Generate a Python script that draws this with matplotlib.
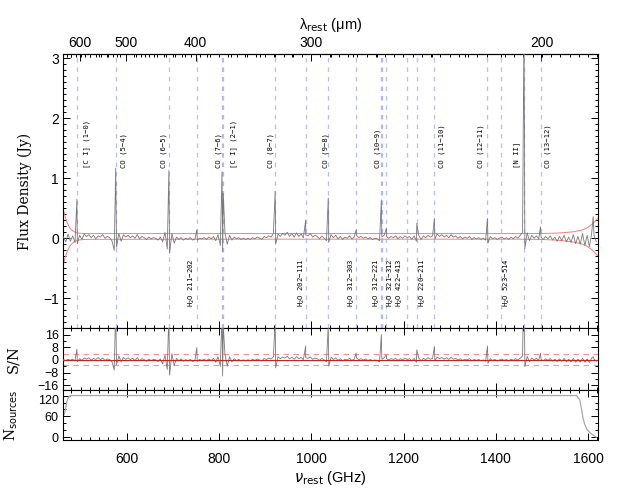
import numpy as np
import matplotlib
matplotlib.use('Agg')
import matplotlib.pyplot as plt
from matplotlib.ticker import MultipleLocator, FixedLocator
from matplotlib.transforms import ScaledTranslation

# ---------------- data ----------------
chan_start = 463.0   # GHz, first channel
chan_step = 5.0      # GHz, channel spacing

flux_base = [
    0.02, -0.06, 0.07, -0.05, 0.04, -0.07, -0.09, 0.05, -0.02, 0.07,
    0.03, 0.06, 0.01, 0.05, -0.01, 0.04, 0.02, 0.06, 0.00, 0.03,
    0.01, -0.04, -0.20, -0.15, 0.08, -0.05, 0.06, 0.02, 0.05, 0.01,
    0.04, 0.00, 0.06, -0.01, 0.03, 0.01, -0.02, 0.02, -0.01, 0.01,
    0.00, -0.03, 0.02, -0.06, 0.10, -0.18, -0.25, 0.08, -0.08, 0.02,
    -0.02, 0.01, -0.03, 0.00, -0.02, 0.01, -0.03, -0.01, -0.03, 0.00,
    -0.01, 0.01, -0.02, 0.02, -0.01, 0.03, -0.04, 0.06, -0.12, -0.22,
    0.09, -0.10, 0.05, -0.03, 0.02, -0.01, 0.01, -0.02, 0.00, -0.02,
    0.00, -0.02, 0.01, -0.01, 0.02, 0.00, -0.02, 0.03, 0.01, 0.04,
    0.02, 0.08, -0.10, 0.07, 0.03, 0.08, 0.05, 0.10, 0.03, 0.08,
    0.02, 0.09, 0.03, 0.07, 0.01, 0.06, 0.04, 0.08, 0.02, 0.05,
    0.03, -0.01, 0.04, 0.00, -0.04, -0.06, 0.06, 0.01, 0.05, -0.01,
    0.03, -0.02, 0.02, 0.00, 0.04, -0.01, 0.02, 0.05, 0.01, 0.03,
    0.00, 0.02, -0.01, 0.01, -0.02, 0.00, -0.01, -0.04, 0.02, 0.05,
    0.03, 0.00, 0.03, 0.01, 0.04, -0.01, 0.03, 0.00, 0.04, 0.01,
    0.03, -0.02, 0.04, -0.05, 0.05, -0.02, 0.04, 0.01, 0.05, 0.02,
    0.04, -0.01, 0.07, 0.03, 0.06, 0.02, 0.05, 0.01, 0.06, 0.02,
    0.04, 0.00, 0.03, -0.01, 0.02, 0.00, 0.03, -0.02, 0.01, -0.01,
    0.01, -0.02, 0.00, -0.03, -0.08, 0.03, -0.01, 0.01, -0.02, 0.00,
    0.02, -0.01, 0.01, -0.02, 0.02, -0.01, 0.03, 0.00, 0.05, 0.10,
    -0.17, 0.09, -0.04, 0.05, 0.00, 0.04, -0.01, 0.02, -0.02, 0.03,
    -0.01, 0.04, -0.03, 0.02, -0.05, 0.03, -0.04, 0.05, -0.06, 0.02,
    -0.07, 0.06, -0.09, 0.03, -0.10, 0.08, -0.12, 0.05, -0.14, 0.10,
    0.04, -0.06,
]

snr_base = [
    0.2, -0.3, 0.4, -0.2, 0.5, -0.6, -1.0, 0.8, -0.3, 1.2,
    0.5, 1.4, -0.2, 1.0, 0.3, 1.5, 0.2, 1.2, -0.3, 0.6,
    0.2, -1.0, -6.4, -3.0, 2.5, -1.2, 1.6, 0.4, 1.3, 0.2,
    1.0, -0.4, 1.5, -0.5, 0.8, 0.2, -0.8, 0.6, -0.4, 0.3,
    0.1, -0.9, 0.7, -2.5, 3.0, -6.0, -9.6, 4.0, -3.5, 1.0,
    -0.5, 0.6, -0.8, 0.2, -0.6, 0.4, -1.0, -0.2, -0.9, 0.3,
    -0.3, 0.5, -0.6, 0.7, -0.4, 1.0, -1.5, 2.0, -4.0, -10.0,
    3.5, -3.8, 2.0, -1.2, 0.8, -0.5, 0.4, -0.7, 0.1, -0.6,
    0.1, -0.5, 0.4, -0.3, 0.6, 0.0, -0.6, 0.9, 0.3, 1.2,
    0.6, 2.0, -5.0, 2.0, 0.8, 1.8, 1.2, 2.2, 0.7, 1.8,
    0.5, 2.0, 0.8, 1.6, 0.2, 1.4, 1.0, 2.0, 0.4, 1.2,
    0.8, -0.3, 1.0, 0.0, -1.2, -4.0, 1.8, 0.3, 1.3, -0.3,
    0.8, -0.6, 0.5, 0.0, 1.0, -0.3, 0.5, 1.3, 0.2, 0.8,
    0.0, 0.5, -0.3, 0.3, -0.6, 0.0, -0.4, -1.2, 0.4, 1.4,
    0.8, 0.0, 0.8, 0.3, 1.0, -0.3, 0.8, 0.0, 1.1, 0.3,
    0.8, -0.6, 1.0, -1.5, 1.3, -0.6, 1.0, 0.2, 1.4, 0.5,
    1.0, -0.3, 1.8, 0.8, 1.6, 0.5, 1.4, 0.3, 1.6, 0.5,
    1.0, 0.0, 0.8, -0.3, 0.5, 0.0, 0.8, -0.5, 0.3, -0.3,
    0.3, -0.6, 0.0, -0.8, -2.2, 0.8, -0.3, 0.3, -0.6, 0.0,
    0.5, -0.3, 0.3, -0.6, 0.5, -0.3, 0.8, 0.0, 1.2, 2.5,
    -4.2, 2.2, -1.0, 1.2, 0.0, 1.0, -0.3, 0.5, -0.5, 0.7,
    -0.3, 0.9, -0.7, 0.5, -1.0, 0.7, -0.8, 1.0, -1.1, 0.4,
    -1.2, 1.0, -1.4, 0.5, -1.4, 1.1, -1.5, 0.7, -1.6, 1.2,
    0.5, -0.7,
]

# emission spikes seen in the stacked spectrum
spike_freq = [492.16, 576.27, 691.47, 752.03, 806.65, 809.34, 921.80, 987.93,
              1036.91, 1097.37, 1151.99, 1162.91, 1228.79, 1267.01, 1381.99,
              1461.13, 1496.92, 1611.0]
spike_flux = [0.65, 1.17, 1.13, 0.14, 1.11, 0.75, 0.78, 0.30,
              0.67, 0.14, 0.64, 0.17, 0.25, 0.33, 0.33,
              3.60, 0.19, 0.36]
spike_snr = [6.8, 35.0, 30.0, 7.8, 30.0, 22.0, 25.0, 8.8,
             22.0, 4.3, 16.0, 3.3, 6.4, 8.4, 8.8,
             60.0, 4.3, 2.0]

# noise envelope (red curves)
env_freq = [462, 466, 470, 474, 478, 482, 486, 490, 496, 505, 520, 800, 1100,
            1450, 1500, 1530, 1550, 1570, 1585, 1595, 1605, 1612, 1621]
env_upper = [0.50, 0.38, 0.28, 0.21, 0.16, 0.13, 0.11, 0.095, 0.085, 0.08, 0.078,
             0.078, 0.078, 0.078, 0.08, 0.085, 0.095, 0.11, 0.135, 0.16, 0.21,
             0.26, 0.33]
env_lower = [-0.46, -0.34, -0.24, -0.17, -0.12, -0.085, -0.06, -0.045, -0.03,
             -0.022, -0.018, -0.015, -0.015, -0.015, -0.02, -0.03, -0.045,
             -0.065, -0.09, -0.12, -0.17, -0.22, -0.29]

snr_level = 3.5

# number of sources contributing
nsrc_freq = [463, 466, 468, 470, 472, 475, 478, 1575, 1582, 1586, 1589, 1593,
             1598, 1607, 1618]
nsrc_vals = [62, 72, 85, 100, 110, 117, 120, 120, 108, 79, 55, 36, 21, 10, 0]

# line catalogue
line_freq = [492.16, 576.27, 691.47, 752.03, 806.65, 809.34, 921.80, 987.93,
             1036.91, 1097.37, 1151.99, 1153.13, 1162.91, 1207.64, 1228.79,
             1267.01, 1381.99, 1410.62, 1461.13, 1496.92]
line_label = ['[C I] (1\u22120)', 'CO (5\u22124)', 'CO (6\u22125)',
              'H$_2$O 211\u2212202', 'CO (7\u22126)', '[C I] (2\u22121)',
              'CO (8\u22127)', 'H$_2$O 202\u2212111', 'CO (9\u22128)',
              'H$_2$O 312\u2212303', 'CO (10\u22129)', 'H$_2$O 312\u2212221',
              'H$_2$O 321\u2212312', 'H$_2$O 422\u2212413', 'H$_2$O 220\u2212211',
              'CO (11\u221210)', 'CO (12\u221211)', 'H$_2$O 523\u2212514',
              '[N II]', 'CO (13\u221212)']

# label horizontal offsets (pixels) relative to the line
label_dx_px = [10, 8, -5.5, -5, -3, 10, -4.5, -4, -3, -4.6, -4, -5, 4.5, -7, 5.7,
               7, -7, 6, -7.5, 7.5]

wl_major = [600, 500, 400, 300, 200]

# ---------------- build spectra ----------------
chan_freq = chan_start + chan_step * np.arange(len(flux_base))
all_freq = np.concatenate([chan_freq, spike_freq])
order = np.argsort(all_freq)
all_freq = all_freq[order]
all_flux = np.concatenate([flux_base, spike_flux])[order]
all_snr = np.concatenate([snr_base, spike_snr])[order]

# ---------------- style ----------------
plt.rcParams['font.family'] = ['Liberation Sans', 'DejaVu Sans']
plt.rcParams['mathtext.fontset'] = 'dejavusans'
plt.rcParams['axes.linewidth'] = 0.8

fig = plt.figure(figsize=(6.3, 4.9), dpi=100)
L, W = 63 / 630, 535 / 630


def rect(top_px, bot_px):
    return [L, 1 - bot_px / 490, W, (bot_px - top_px) / 490]


ax1 = fig.add_axes(rect(54, 328.3))
ax2 = fig.add_axes(rect(328.3, 390), sharex=ax1)
ax3 = fig.add_axes(rect(390, 440), sharex=ax1)

XMIN, XMAX = 462, 1621.5
spec_col = '#787878'
line_col = (0.4, 0.4, 1.0)

for ax in (ax1, ax2, ax3):
    ax.tick_params(which='both', direction='in', top=True, right=True,
                   labelsize=10, width=0.7, pad=3)
    ax.tick_params(which='major', length=5)
    ax.tick_params(which='minor', length=2.5)
    ax.xaxis.set_major_locator(MultipleLocator(200))
    ax.xaxis.set_minor_locator(MultipleLocator(20))

# ---- top panel
for f, lab, dx in zip(line_freq, line_label, label_dx_px):
    ax1.axvline(f, color=line_col, alpha=0.45, lw=0.9, dashes=(3.6, 4.0), zorder=1)
    water = lab.startswith('H')
    ax1.annotate(lab, xy=(f, -0.33 if water else 1.17), xycoords='data',
                 xytext=(dx * 0.72, 0), textcoords='offset points',
                 rotation=90, ha='center', va='top' if water else 'bottom',
                 fontsize=5.2, family='DejaVu Sans Mono', color='black')

ax1.plot(env_freq, env_upper, color='#ff7a7a', lw=0.7, zorder=2)
ax1.plot(env_freq, env_lower, color='#ff7a7a', lw=0.7, zorder=2)
ax1.plot(all_freq, all_flux, color=spec_col, lw=0.6, zorder=3)
ax1.set_xlim(XMIN, XMAX)
ax1.set_ylim(-1.5, 3.07)
ax1.yaxis.set_major_locator(MultipleLocator(1))
ax1.yaxis.set_minor_locator(MultipleLocator(0.1))
ax1.tick_params(labelbottom=False, top=False)
ax1.set_ylabel('Flux Density (Jy)', family='DejaVu Serif', fontsize=10)
ax1.yaxis.set_label_coords(-0.058, 0.5)

C_UM = 299792.458


def f2l(x):
    x = np.asarray(x, dtype=float)
    with np.errstate(divide='ignore', invalid='ignore'):
        return C_UM / x


secax = ax1.secondary_xaxis('top', functions=(f2l, f2l))
secax.xaxis.set_major_locator(FixedLocator(wl_major))
secax.xaxis.set_minor_locator(FixedLocator(np.arange(187.5, 640, 12.5)))
secax.tick_params(which='both', direction='in', labelsize=10, width=0.7, pad=3)
secax.tick_params(which='major', length=5)
secax.tick_params(which='minor', length=2.5)
secax.set_xlabel('\u03bb$_{\\rm rest}$ (\u03bcm)', fontsize=10.5, labelpad=5)

# ---- S/N panel
ax2.plot(all_freq, all_snr, color=spec_col, lw=0.6, zorder=3)
ax2.axhline(0, color='#cc2020', lw=0.8, zorder=4)
ax2.axhline(snr_level, color='#ff9090', lw=0.8, dashes=(5, 4), zorder=2)
ax2.axhline(-snr_level, color='#ff9090', lw=0.8, dashes=(5, 4), zorder=2)
ax2.set_ylim(-19, 20)
ax2.yaxis.set_major_locator(FixedLocator([-16, -8, 0, 8, 16]))
ax2.yaxis.set_minor_locator(MultipleLocator(4))
ax2.tick_params(labelbottom=False)
ax2.tick_params(axis='y', labelsize=9)
ax2.set_ylabel('S/N', family='DejaVu Serif', fontsize=10.5)
ax2.yaxis.set_label_coords(-0.080, 0.5)

# ---- N sources panel
ax3.plot(nsrc_freq, nsrc_vals, color='#a8a8a8', lw=0.9)
ax3.set_ylim(-8, 136)
ax3.yaxis.set_major_locator(FixedLocator([0, 60, 120]))
ax3.yaxis.set_minor_locator(MultipleLocator(20))
ax3.tick_params(axis='x', pad=8.5)
ax3.tick_params(axis='y', labelsize=9)
ax3.set_ylabel(r'N$_{\rm sources}$', family='DejaVu Serif', fontsize=10)
ax3.yaxis.set_label_coords(-0.080, 0.5)
ax3.set_xlabel(r'$\nu_{\rm rest}$ (GHz)', fontsize=10.5, labelpad=2)
ax3.set_xlim(XMIN, XMAX)

# nudge the crowded "120" label slightly down so it clears "-16" above it
fig.canvas.draw()
for tick in ax3.yaxis.get_major_ticks():
    if abs(tick.get_loc() - 120) < 1e-6:
        lbl = tick.label1
        lbl.set_transform(lbl.get_transform() +
                          ScaledTranslation(0, -4 / 100, fig.dpi_scale_trans))

fig.savefig('out.png', dpi=100)
